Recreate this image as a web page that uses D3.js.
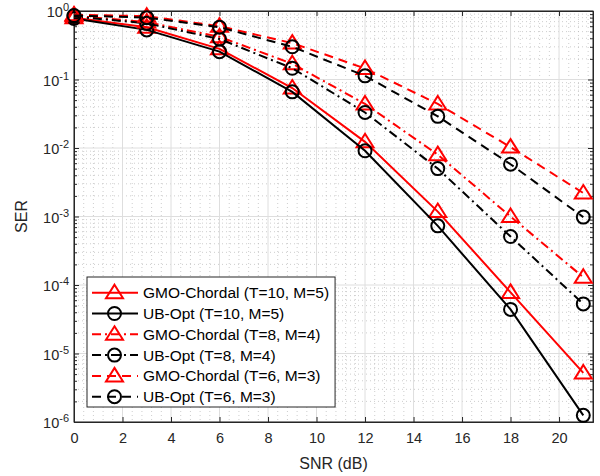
<!DOCTYPE html>
<html>
<head>
<meta charset="utf-8">
<script src="https://cdn.jsdelivr.net/npm/d3@7"></script>
<style>
  html, body { margin: 0; padding: 0; background: #fff; }
  svg { display: block; font-family: "Liberation Sans", Arial, Helvetica, sans-serif; }
</style>
</head>
<body>
<svg id="chart" width="600" height="476"></svg>
<script>
// SNR sample points (dB)
const snr = [0, 3, 6, 9, 12, 15, 18, 21];

// Symbol error rate for each scheme
const gmoT10 = [0.80, 0.58, 0.28, 0.075, 0.0123, 0.00118, 7.8e-5, 5.2e-6];
const ubT10  = [0.78, 0.53, 0.255, 0.066, 0.0091, 7.3e-4, 4.4e-5, 1.25e-6];
const gmoT8  = [0.85, 0.69, 0.42, 0.17, 0.044, 0.0080, 1.0e-3, 1.3e-4];
const ubT8   = [0.83, 0.66, 0.39, 0.146, 0.033, 0.0050, 5.1e-4, 5.3e-5];
const gmoT6  = [0.88, 0.84, 0.60, 0.34, 0.145, 0.044, 0.0103, 2.2e-3];
const ubT6   = [0.86, 0.80, 0.58, 0.30, 0.113, 0.029, 0.0058, 9.8e-4];

const seriesNames = [
  "GMO-Chordal (T=10, M=5)",
  "UB-Opt (T=10, M=5)",
  "GMO-Chordal (T=8, M=4)",
  "UB-Opt (T=8, M=4)",
  "GMO-Chordal (T=6, M=3)",
  "UB-Opt (T=6, M=3)"
];

// Axis ticks
const xTicks = [0, 2, 4, 6, 8, 10, 12, 14, 16, 18, 20];
const yExponents = [0, -1, -2, -3, -4, -5, -6];

const series = [
  { name: seriesNames[0], values: gmoT10, color: "#ff0000", dash: null, marker: "tri" },
  { name: seriesNames[1], values: ubT10,  color: "#000000", dash: null, marker: "circ" },
  { name: seriesNames[2], values: gmoT8,  color: "#ff0000", dash: "9,4,2,4", marker: "tri" },
  { name: seriesNames[3], values: ubT8,   color: "#000000", dash: "9,4,2,4", marker: "circ" },
  { name: seriesNames[4], values: gmoT6,  color: "#ff0000", dash: "9,6", marker: "tri" },
  { name: seriesNames[5], values: ubT6,   color: "#000000", dash: "9,6", marker: "circ" }
];

const svg = d3.select("#chart");
const plot = { left: 74, right: 593, top: 11, bottom: 422 };

const x = d3.scaleLinear().domain([0, 21.4]).range([plot.left, plot.right]);
const y = d3.scaleLog().domain([1e-6, 1]).range([plot.bottom, plot.top]);

const axisColor = "#262626";

// Minor grid (dotted)
const g = svg.append("g");
const xMinor = d3.range(0, 21.4, 0.4).filter(v => Math.abs(v / 2 - Math.round(v / 2)) > 1e-6);
g.selectAll(".xminor").data(xMinor).join("line")
  .attr("x1", d => x(d)).attr("x2", d => x(d))
  .attr("y1", plot.top).attr("y2", plot.bottom)
  .attr("stroke", "#b8b8b8").attr("stroke-width", 0.7).attr("stroke-dasharray", "1,3");

const yMinor = [];
for (let e = -6; e < 0; e++) for (let m = 2; m <= 9; m++) yMinor.push(m * Math.pow(10, e));
g.selectAll(".yminor").data(yMinor).join("line")
  .attr("x1", plot.left).attr("x2", plot.right)
  .attr("y1", d => y(d)).attr("y2", d => y(d))
  .attr("stroke", "#b8b8b8").attr("stroke-width", 0.7).attr("stroke-dasharray", "1,3");

// Major grid
g.selectAll(".xmajor").data(xTicks).join("line")
  .attr("x1", d => x(d)).attr("x2", d => x(d))
  .attr("y1", plot.top).attr("y2", plot.bottom)
  .attr("stroke", "#dedede").attr("stroke-width", 1);
g.selectAll(".ymajor").data(yExponents).join("line")
  .attr("x1", plot.left).attr("x2", plot.right)
  .attr("y1", d => y(Math.pow(10, d))).attr("y2", d => y(Math.pow(10, d)))
  .attr("stroke", "#dedede").attr("stroke-width", 1);

// Axes (bottom/left with labels, top/right as box with ticks)
const xAxis = d3.axisBottom(x).tickValues(xTicks).tickSizeInner(-5).tickSizeOuter(0).tickPadding(11);
const gx = svg.append("g").attr("transform", `translate(0,${plot.bottom})`).call(xAxis);
gx.selectAll("text").attr("font-size", 14.5).attr("fill", axisColor);

const xAxisTop = d3.axisTop(x).tickValues(xTicks).tickSizeInner(-5).tickSizeOuter(0).tickFormat("");
svg.append("g").attr("transform", `translate(0,${plot.top})`).call(xAxisTop);

const yMajorVals = yExponents.map(e => Math.pow(10, e));
const yAxis = d3.axisLeft(y).tickValues(yMajorVals).tickSizeInner(-5).tickSizeOuter(0).tickFormat("");
svg.append("g").attr("transform", `translate(${plot.left},0)`).call(yAxis);
const yAxisR = d3.axisRight(y).tickValues(yMajorVals).tickSizeInner(-5).tickSizeOuter(0).tickFormat("");
svg.append("g").attr("transform", `translate(${plot.right},0)`).call(yAxisR);

// Minor ticks on log axis
const yMinorAxisL = d3.axisLeft(y).tickValues(yMinor).tickSizeInner(-3).tickSizeOuter(0).tickFormat("");
svg.append("g").attr("transform", `translate(${plot.left},0)`).call(yMinorAxisL);
const yMinorAxisR = d3.axisRight(y).tickValues(yMinor).tickSizeInner(-3).tickSizeOuter(0).tickFormat("");
svg.append("g").attr("transform", `translate(${plot.right},0)`).call(yMinorAxisR);

svg.selectAll(".domain").attr("stroke", axisColor).attr("stroke-width", 1);
svg.selectAll(".tick line").attr("stroke", axisColor).attr("stroke-width", 1);

// Box edges
svg.append("rect")
  .attr("x", plot.left).attr("y", plot.top)
  .attr("width", plot.right - plot.left).attr("height", plot.bottom - plot.top)
  .attr("fill", "none").attr("stroke", axisColor).attr("stroke-width", 1);

// Y tick labels as 10^n
const yl = svg.append("g").attr("fill", axisColor);
yExponents.forEach(e => {
  const t = yl.append("text")
    .attr("x", 69).attr("y", y(Math.pow(10, e)) + 6)
    .attr("text-anchor", "end").attr("font-size", 14.5);
  t.append("tspan").text("10");
  t.append("tspan").attr("dy", -6).attr("font-size", 11).text(String(e));
});

// Axis titles
svg.append("text")
  .attr("transform", `translate(27,${(plot.top + plot.bottom) / 2}) rotate(-90)`)
  .attr("text-anchor", "middle").attr("font-size", 16).attr("fill", axisColor)
  .text("SER");
svg.append("text")
  .attr("x", (plot.left + plot.right) / 2).attr("y", 469)
  .attr("text-anchor", "middle").attr("font-size", 16).attr("fill", axisColor)
  .text("SNR (dB)");

// Marker drawing helpers
function drawMarker(sel, type, cx, cy, color) {
  if (type === "tri") {
    sel.append("path")
      .attr("d", `M${cx},${cy - 8} L${cx + 8.5},${cy + 5.5} L${cx - 8.5},${cy + 5.5} Z`)
      .attr("fill", "none").attr("stroke", color).attr("stroke-width", 2)
      .attr("stroke-linejoin", "miter");
  } else {
    sel.append("circle")
      .attr("cx", cx).attr("cy", cy).attr("r", 6.5)
      .attr("fill", "none").attr("stroke", color).attr("stroke-width", 2);
  }
}

// Curves
const line = d3.line().x((d, i) => x(snr[i])).y(d => y(d));
const curves = svg.append("g");
series.forEach(s => {
  curves.append("path")
    .attr("d", line(s.values))
    .attr("fill", "none").attr("stroke", s.color).attr("stroke-width", 2)
    .attr("stroke-dasharray", s.dash);
  const mg = curves.append("g");
  s.values.forEach((v, i) => drawMarker(mg, s.marker, x(snr[i]), y(v), s.color));
});

// Legend: box sized to the widest entry
const leg = svg.append("g");
const lg = { left: 87, top: 277, bottom: 407 };
const box = leg.append("rect")
  .attr("x", lg.left).attr("y", lg.top)
  .attr("height", lg.bottom - lg.top)
  .attr("fill", "#fff").attr("stroke", axisColor).attr("stroke-width", 1);
let textRight = 0;
series.forEach((s, i) => {
  const cy = 292.7 + i * 20.8;
  leg.append("line")
    .attr("x1", 92).attr("x2", 138).attr("y1", cy).attr("y2", cy)
    .attr("stroke", s.color).attr("stroke-width", 2)
    .attr("stroke-dasharray", s.dash);
  drawMarker(leg, s.marker, 114.5, cy, s.color);
  const t = leg.append("text")
    .attr("x", 143).attr("y", cy + 5.5)
    .attr("font-size", 15.5).attr("fill", "#000")
    .text(s.name);
  textRight = Math.max(textRight, 143 + t.node().getComputedTextLength());
});
box.attr("width", textRight + 6 - lg.left);
</script>
</body>
</html>
